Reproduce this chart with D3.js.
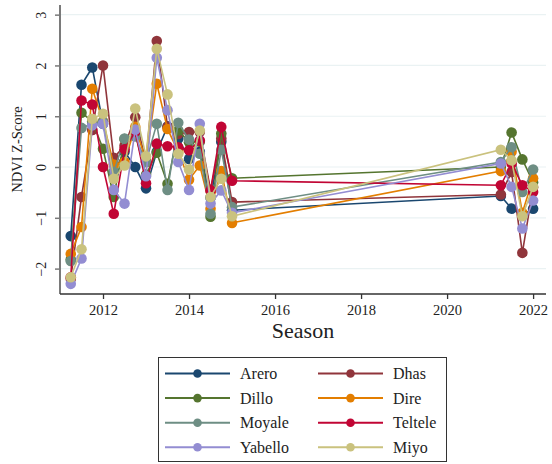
<!DOCTYPE html>
<html>
<head>
<meta charset="utf-8">
<script src="https://cdn.jsdelivr.net/npm/d3@7"></script>
<style>
  html, body { margin: 0; padding: 0; background: #fff; }
  svg { display: block; }
  svg text { font-family: "Liberation Serif", "DejaVu Serif", serif; }
</style>
</head>
<body>
<svg id="chart" width="552" height="464"></svg>
<script>
// Seasons as decimal years (quarterly steps)
const seasons = [2011.25, 2011.5, 2011.75, 2012.0, 2012.25, 2012.5, 2012.75, 2013.0,
                 2013.25, 2013.5, 2013.75, 2014.0, 2014.25, 2014.5, 2014.75, 2015.0,
                 2021.25, 2021.5, 2021.75, 2022.0];

const sites = ["Arero", "Dhas", "Dillo", "Dire", "Moyale", "Teltele", "Yabello", "Miyo"];

const arero   = [-1.36, 1.62, 1.96, 0.85, -0.10, 0.30, 0.00, -0.42, 0.30, 0.80, 0.56, 0.16, 0.30, -0.60, 0.50, -0.85, -0.57, -0.82, -0.95, -0.82];
const dhas    = [-2.20, -0.59, 0.73, 2.00, 0.18, 0.42, 0.98, 0.10, 2.48, 0.79, 0.65, 0.69, 0.69, -0.45, 0.56, -0.69, -0.54, -0.10, -1.69, -0.40];
const dillo   = [-1.82, 1.07, 0.90, 0.36, -0.59, 0.55, 0.65, -0.15, 0.28, -0.33, 0.72, 0.49, 0.50, -0.98, 0.66, -0.22, 0.00, 0.68, 0.15, -0.30];
const dire    = [-1.71, -1.18, 1.54, 0.90, 0.05, 0.10, 0.79, 0.12, 1.64, 0.75, 0.30, -0.25, 0.03, -0.82, -0.08, -1.10, -0.08, 0.30, -0.90, -0.22];
const moyale  = [-1.85, 0.77, 0.85, 0.89, -0.10, 0.56, 0.60, 0.10, 0.85, -0.45, 0.87, 0.54, 0.26, -0.92, 0.34, -0.79, 0.10, 0.39, -0.49, -0.05];
const teltele = [-2.17, 1.31, 1.23, 0.00, -0.92, 0.35, 0.70, -0.32, 0.46, 0.41, 0.39, 0.33, 0.52, -0.46, 0.79, -0.27, -0.36, 0.07, -0.36, -0.49];
const yabello = [-2.30, -1.80, 0.82, 0.85, -0.45, -0.72, 0.74, -0.18, 2.15, 1.12, 0.10, -0.45, 0.85, -0.72, -0.46, -0.90, 0.07, -0.39, -1.21, -0.66];
const miyo    = [-2.17, -1.62, 0.95, 1.05, -0.23, 0.03, 1.15, 0.21, 2.33, 1.43, 0.26, -0.05, 0.72, -0.59, -0.23, -0.97, 0.34, 0.13, -0.97, -0.39];

const seriesValues = [arero, dhas, dillo, dire, moyale, teltele, yabello, miyo];
const colors = ["#1a476f", "#90353b", "#55752f", "#e37e00", "#6e8e84", "#c10534", "#938dd2", "#cac27e"];

const xTicks = [2012, 2014, 2016, 2018, 2020, 2022];
const yTicks = [-2, -1, 0, 1, 2, 3];

const FONT = "Liberation Serif, DejaVu Serif, serif";
const svg = d3.select("#chart");
const plotLeft = 60, plotRight = 546, plotTop = 5, plotBottom = 294;

const x = d3.scaleLinear().domain([2011, 2022.3]).range([plotLeft, plotRight]);
const y = d3.scaleLinear().domain([-2.5, 3.19]).range([plotBottom, plotTop]);

// horizontal gridlines
svg.append("g").selectAll("line").data(yTicks).join("line")
  .attr("x1", plotLeft).attr("x2", plotRight)
  .attr("y1", d => y(d)).attr("y2", d => y(d))
  .attr("stroke", "#eaf2f3").attr("stroke-width", 1.2);

// y axis
const yAxis = svg.append("g").attr("transform", `translate(${plotLeft},0)`)
  .call(d3.axisLeft(y).tickValues(yTicks).tickSize(5).tickPadding(0).tickFormat(d3.format("d")));
yAxis.attr("font-family", FONT);
yAxis.select(".domain").attr("stroke", "#7a7a7a").attr("stroke-width", 2)
  .attr("d", `M0,${plotTop}V${plotBottom}`);
yAxis.selectAll(".tick line").attr("stroke", "#7a7a7a").attr("stroke-width", 1.5);
yAxis.selectAll(".tick text")
  .attr("font-family", FONT).attr("font-size", 14).attr("fill", "#222")
  .attr("text-anchor", "middle").attr("dy", null)
  .attr("transform", "translate(-19,0) rotate(-90)")
  .attr("x", 0).attr("y", 0).attr("dominant-baseline", "central");

// x axis
const xAxis = svg.append("g").attr("transform", `translate(0,${plotBottom})`)
  .call(d3.axisBottom(x).tickValues(xTicks).tickSize(5).tickPadding(6).tickFormat(d3.format("d")));
xAxis.attr("font-family", FONT);
xAxis.select(".domain").attr("stroke", "#333").attr("stroke-width", 1.5)
  .attr("d", `M${plotLeft},0H${plotRight}`);
xAxis.selectAll(".tick line").attr("stroke", "#333").attr("stroke-width", 1.3);
xAxis.selectAll(".tick text")
  .attr("font-family", FONT).attr("font-size", 14.5).attr("fill", "#222");

// axis titles
svg.append("text").attr("x", 303).attr("y", 338).attr("text-anchor", "middle")
  .attr("font-family", FONT).attr("font-size", 22).attr("fill", "#222").text("Season");
svg.append("text").attr("transform", `translate(22,${(plotTop + plotBottom) / 2}) rotate(-90)`)
  .attr("text-anchor", "middle").attr("font-family", FONT)
  .attr("font-size", 14.5).attr("fill", "#222").text("NDVI Z-Score");

// series lines and markers
const line = d3.line().x((d, i) => x(seasons[i])).y(d => y(d));
const plot = svg.append("g");
seriesValues.forEach((vals, k) => {
  const g = plot.append("g");
  g.append("path").datum(vals).attr("d", line)
    .attr("fill", "none").attr("stroke", colors[k]).attr("stroke-width", 1.6);
  g.selectAll("circle").data(vals).join("circle")
    .attr("cx", (d, i) => x(seasons[i])).attr("cy", d => y(d))
    .attr("r", 5.3).attr("fill", colors[k]);
});

// legend
const lg = svg.append("g");
lg.append("rect").attr("x", 158.5).attr("y", 357.5).attr("width", 288).attr("height", 104)
  .attr("fill", "#fff").attr("stroke", "#333").attr("stroke-width", 1);
sites.forEach((name, k) => {
  const col = k % 2, row = Math.floor(k / 2);
  const x0 = col === 0 ? 165 : 318;
  const cy = 373.5 + row * 24.6;
  lg.append("line").attr("x1", x0).attr("x2", x0 + 65).attr("y1", cy).attr("y2", cy)
    .attr("stroke", colors[k]).attr("stroke-width", 2);
  lg.append("circle").attr("cx", x0 + 32.5).attr("cy", cy).attr("r", 4.3).attr("fill", colors[k]);
  lg.append("text").attr("x", x0 + 75).attr("y", cy).attr("dy", "0.35em")
    .attr("font-family", FONT).attr("font-size", 16).attr("fill", "#222").text(name);
});
</script>
</body>
</html>
